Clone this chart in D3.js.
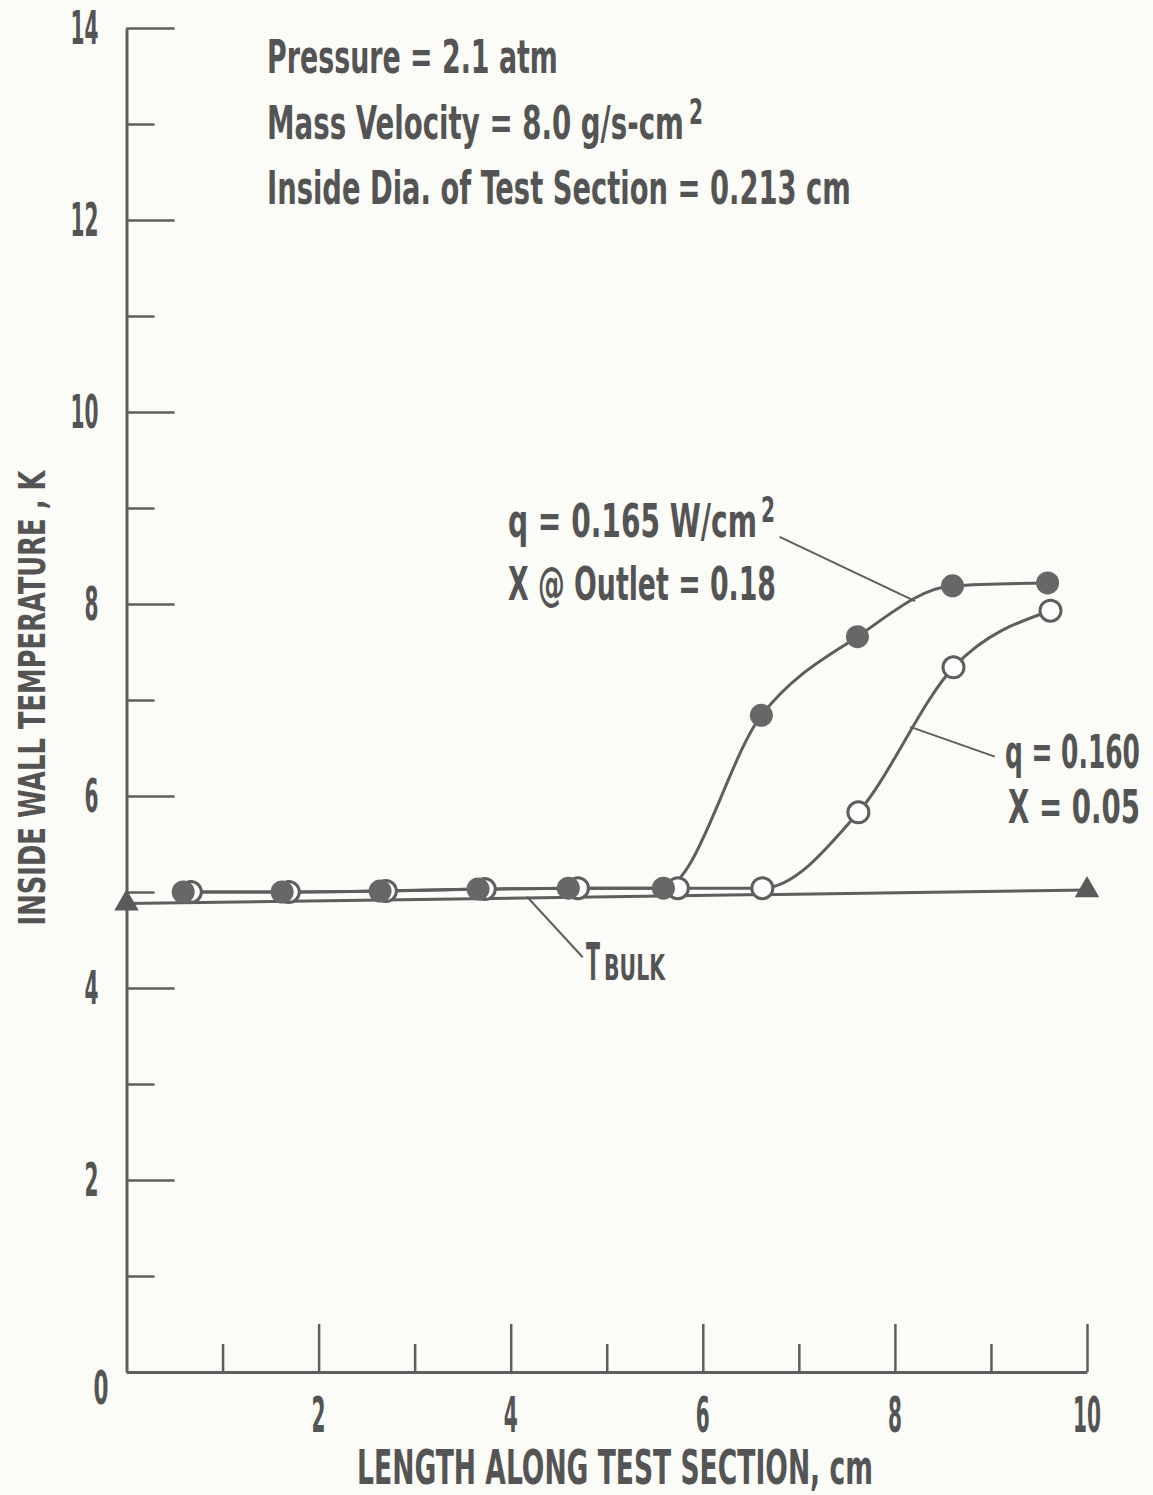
<!DOCTYPE html>
<html><head><meta charset="utf-8">
<script src="https://cdn.jsdelivr.net/npm/d3@7"></script>
<style>body{margin:0;background:#fbfbf7}svg{display:block}</style>
</head><body><svg id="c" width="1153" height="1495"></svg>
<script>
// ---- data ----
const xMajorTicks = [2, 4, 6, 8, 10];
const xMinorTicks = [1, 3, 5, 7, 9];
const yMajorTicks = [0, 2, 4, 6, 8, 10, 12, 14];
const yMinorTicks = [1, 3, 5, 7, 9, 11, 13];
const xTickLabels = ["2", "4", "6", "8", "10"];
const yTickLabels = ["0", "2", "4", "6", "8", "10", "12", "14"];

// q = 0.165 W/cm2 (filled circles)
const filledX = [0.59, 1.62, 2.64, 3.66, 4.60, 5.59, 6.61, 7.61, 8.60, 9.59];
const filledY = [5.00, 5.00, 5.01, 5.03, 5.04, 5.04, 6.84, 7.66, 8.19, 8.22];
// q = 0.160 (open circles)
const openX = [0.67, 1.69, 2.70, 3.73, 4.70, 5.74, 6.62, 7.62, 8.61, 9.62];
const openY = [5.00, 5.00, 5.01, 5.03, 5.04, 5.04, 5.04, 5.83, 7.34, 7.93];
// T bulk (triangles)
const bulkX = [0, 10];
const bulkY = [4.88, 5.02];

const headerLines = ["Pressure = 2.1 atm", "Mass Velocity = 8.0 g/s-cm", "Inside Dia. of Test Section = 0.213 cm"];

// ---- drawing ----
const svg = d3.select("#c");
const INK = "#5e5e5e", TXT = "#545454", BG = "#fbfbf7";
const FONT = "'DejaVu Sans Condensed','Liberation Sans Narrow',sans-serif";
svg.append("rect").attr("width", 1153).attr("height", 1495).attr("fill", BG);

const x = d3.scaleLinear().domain([0, 10]).range([126.5, 1087]);
const y = d3.scaleLinear().domain([0, 14]).range([1372, 28]);

// text squeezed horizontally to a target width w (pixels)
function txt(str, px, py, w, size, anchor, rot) {
  const g = svg.append("g");
  const t = g.append("text")
    .attr("font-family", FONT).attr("font-weight", "bold")
    .attr("font-size", size).attr("fill", TXT)
    .attr("text-anchor", anchor || "start")
    .text(str);
  const nat = t.node().getComputedTextLength();
  const sx = w / nat;
  g.attr("transform", `translate(${px},${py})` + (rot ? ` rotate(${rot})` : "") + ` scale(${sx},1)`);
  return g;
}

// axes
function styleAxis(g) {
  g.selectAll("path.domain").attr("stroke", INK).attr("stroke-width", 3);
  g.selectAll(".tick line").attr("stroke", INK).attr("stroke-width", 2.5);
}
const yMaj = svg.append("g").attr("transform", `translate(${x(0)},0)`)
  .call(d3.axisLeft(y).tickValues(yMajorTicks).tickSize(-48).tickSizeOuter(0).tickFormat(""));
styleAxis(yMaj);
const yMin = svg.append("g").attr("transform", `translate(${x(0)},0)`)
  .call(d3.axisLeft(y).tickValues(yMinorTicks).tickSize(-28).tickSizeOuter(0).tickFormat(""));
styleAxis(yMin); yMin.select("path.domain").remove();
const xMaj = svg.append("g").attr("transform", `translate(0,${y(0)})`)
  .call(d3.axisBottom(x).tickValues(xMajorTicks).tickSize(-48).tickSizeOuter(0).tickFormat(""));
styleAxis(xMaj);
const xMin = svg.append("g").attr("transform", `translate(0,${y(0)})`)
  .call(d3.axisBottom(x).tickValues(xMinorTicks).tickSize(-28).tickSizeOuter(0).tickFormat(""));
styleAxis(xMin); xMin.select("path.domain").remove();

// tick labels
yMajorTicks.forEach((v, i) => {
  const s = yTickLabels[i];
  if (v === 0) txt(s, x(0) - 18, y(v) + 32, 15, 46, "end");
  else txt(s, x(0) - 28, y(v) + 16, 14 * s.length, 46, "end");
});
xMajorTicks.forEach((v, i) => {
  const s = xTickLabels[i];
  txt(s, x(v), y(0) + 60, 14 * s.length, 50, "middle");
});

// axis titles
txt("LENGTH ALONG TEST SECTION, cm", 615, 1484, 516, 48, "middle");
txt("INSIDE WALL TEMPERATURE , K", 45, 698, 455, 38, "middle", -90);

// header text
const hb = [73, 139, 204];
txt(headerLines[0], 267, hb[0], 291, 46);
txt(headerLines[1], 267, hb[1], 417, 46);
txt("2", 689, hb[1] - 15, 14, 36);
txt(headerLines[2], 267, hb[2], 584, 46);

// curves
const line = d3.line().x(d => x(d[0])).y(d => y(d[1])).curve(d3.curveMonotoneX);
const bulk = d3.line().x(d => x(d[0])).y(d => y(d[1]));
svg.append("path").datum(bulkX.map((v, i) => [v, bulkY[i]]))
  .attr("d", bulk).attr("fill", "none").attr("stroke", INK).attr("stroke-width", 3);
const openPts = openX.map((v, i) => [v, openY[i]]);
const filledPts = filledX.map((v, i) => [v, filledY[i]]);
svg.append("path").datum(openPts).attr("d", line).attr("fill", "none").attr("stroke", INK).attr("stroke-width", 3);
svg.append("path").datum(filledPts).attr("d", line).attr("fill", "none").attr("stroke", INK).attr("stroke-width", 3);

// markers
svg.selectAll("circle.open").data(openPts).join("circle").attr("class", "open")
  .attr("cx", d => x(d[0])).attr("cy", d => y(d[1])).attr("r", 10.5)
  .attr("fill", "#fdfdfb").attr("stroke", INK).attr("stroke-width", 3);
svg.selectAll("circle.filled").data(filledPts).join("circle").attr("class", "filled")
  .attr("cx", d => x(d[0])).attr("cy", d => y(d[1])).attr("r", 11.5)
  .attr("fill", "#676767");
svg.selectAll("path.tri").data(bulkX.map((v, i) => [v, bulkY[i]])).join("path").attr("class", "tri")
  .attr("d", d3.symbol(d3.symbolTriangle, 260))
  .attr("transform", d => `translate(${x(d[0])},${y(d[1])})`)
  .attr("fill", "#5a5a5a");

// annotations
function leader(x1, y1, x2, y2) {
  svg.append("line").attr("x1", x(x1)).attr("y1", y(y1)).attr("x2", x(x2)).attr("y2", y(y2))
    .attr("stroke", INK).attr("stroke-width", 2);
}
leader(6.80, 8.70, 8.21, 8.03);
leader(8.16, 6.72, 9.04, 6.41);
leader(4.17, 4.95, 4.75, 4.32);

txt("q = 0.165 W/cm", 508, 537, 249, 46);
txt("2", 761, 522, 14, 36);
txt("X @ Outlet = 0.18", 508, 600, 268, 46);
txt("q = 0.160", 1005, 768, 135, 46);
txt("X = 0.05", 1008, 823, 132, 46);
txt("T", 586, 980, 14, 52);
txt("BULK", 604, 980, 61, 36);
</script></body></html>
